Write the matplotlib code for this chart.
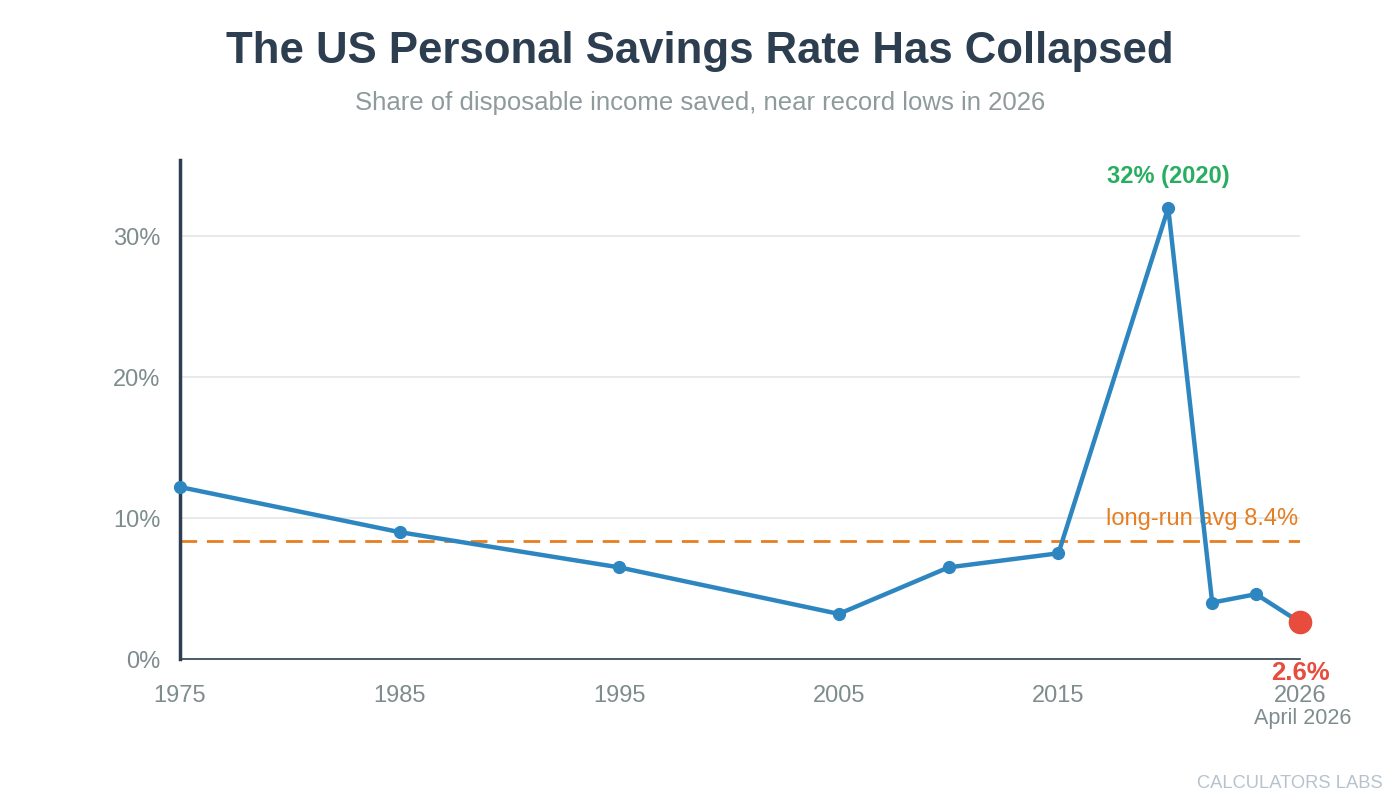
import matplotlib.pyplot as plt

plt.rcParams['font.family'] = ['Liberation Sans', 'DejaVu Sans']

years = [1975, 1985, 1995, 2005, 2010, 2015, 2020, 2022, 2024, 2026]
rates = [12.2, 9.0, 6.5, 3.2, 6.5, 7.5, 32.0, 4.0, 4.6, 2.6]
avg_rate = 8.4
y_ticks = [0, 10, 20, 30]
x_ticks = [1975, 1985, 1995, 2005, 2015, 2026]

fig = plt.figure(figsize=(14, 8), dpi=100)
ax = fig.add_axes([180 / 1400, 1 - 659 / 800, 1120 / 1400, 499 / 800])

ax.set_xlim(1975, 2026)
ax.set_ylim(0, 35.4)

# grid
for t in y_ticks[1:]:
    ax.axhline(t, color='#e3e6e8', lw=1.2, zorder=1)

# long run average
ax.axhline(avg_rate, color='#e67e22', lw=2, ls=(0, (6, 3.5)), zorder=2)
ax.text(2025.9, avg_rate + 0.75, 'long-run avg 8.4%', color='#e67e22',
        fontsize=17, ha='right', va='bottom', zorder=3)

# main line
ax.plot(years, rates, color='#2e86c1', lw=3.2, marker='o', markersize=8.5,
        zorder=4, clip_on=False)
ax.plot(years[-1], rates[-1], 'o', color='#e74c3c', markersize=16,
        zorder=5, clip_on=False)

ax.annotate('32% (2020)', (2020, 32), xytext=(0, 14), textcoords='offset points',
            ha='center', va='bottom', color='#27ae60', fontsize=17,
            fontweight='bold')
ax.annotate('2.6%', (2026, 0), xytext=(0, -1.5), textcoords='offset points',
            ha='center', va='top', color='#e74c3c', fontsize=18.5,
            fontweight='bold', annotation_clip=False, zorder=6)
ax.annotate('April 2026', (2026, 0), xytext=(2, -35), textcoords='offset points',
            ha='center', va='top', color='#7f8c8d', fontsize=15.5,
            annotation_clip=False)

# axes styling
for s in ['top', 'right']:
    ax.spines[s].set_visible(False)
ax.spines['left'].set_color('#2c3e50')
ax.spines['left'].set_linewidth(2.5)
ax.spines['bottom'].set_color('#2c3e50')
ax.spines['bottom'].set_linewidth(1.2)

ax.set_yticks(y_ticks)
ax.set_yticklabels([f'{t}%' for t in y_ticks])
ax.set_xticks(x_ticks)
ax.set_xticklabels([str(t) for t in x_ticks])
ax.tick_params(axis='both', length=0, labelsize=17, labelcolor='#7f8c8d')
ax.tick_params(axis='y', pad=14)
ax.tick_params(axis='x', pad=19)

fig.text(0.5, 1 - 52 / 800, 'The US Personal Savings Rate Has Collapsed',
         ha='center', va='center', fontsize=31.5, fontweight='bold', color='#2c3e50')
fig.text(0.5, 1 - 103 / 800, 'Share of disposable income saved, near record lows in 2026',
         ha='center', va='center', fontsize=18.5, color='#8e9a9b')
fig.text(1383 / 1400, 1 - 784 / 800, 'CALCULATORS LABS', ha='right', va='center',
         fontsize=13.2, color='#b8c2cc')

fig.savefig('out.png', dpi=100)
